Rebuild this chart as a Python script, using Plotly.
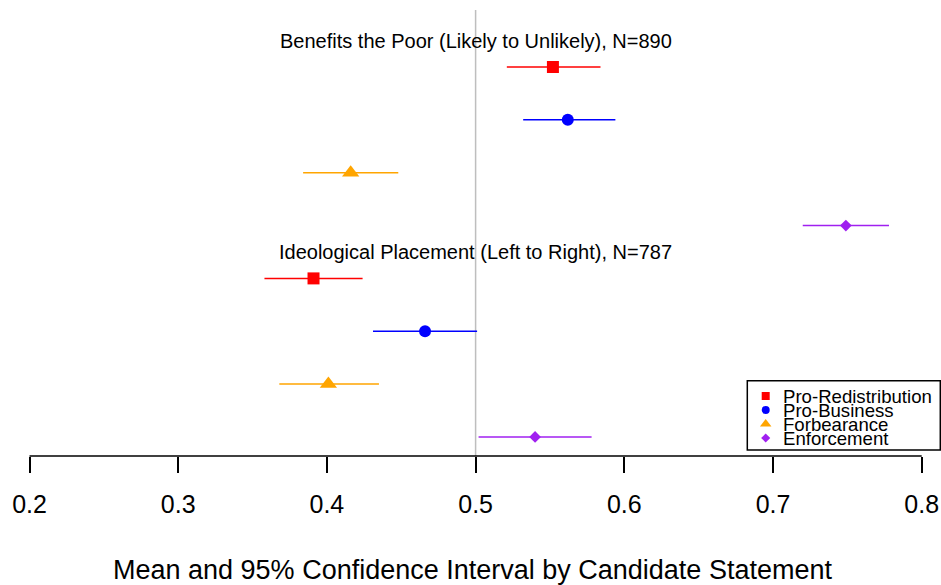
import plotly.graph_objects as go

# ---- data ----
statements = ["Benefits the Poor (Likely to Unlikely), N=890",
              "Ideological Placement (Left to Right), N=787"]
series = ["Pro-Redistribution", "Pro-Business", "Forbearance", "Enforcement"]
colors = ["#FF0000", "#0000FF", "#FFA500", "#A020F0"]
symbols = ["square", "circle", "triangle-up", "diamond"]
msizes = [12, 12, 15, 9]
legend_msizes = [8, 8, 10, 7]

means = {
    "Pro-Redistribution": [0.552, 0.391],
    "Pro-Business":       [0.562, 0.466],
    "Forbearance":        [0.416, 0.401],
    "Enforcement":        [0.749, 0.540],
}
lows = {
    "Pro-Redistribution": [0.521, 0.358],
    "Pro-Business":       [0.532, 0.431],
    "Forbearance":        [0.384, 0.368],
    "Enforcement":        [0.720, 0.502],
}
highs = {
    "Pro-Redistribution": [0.584, 0.424],
    "Pro-Business":       [0.594, 0.501],
    "Forbearance":        [0.448, 0.435],
    "Enforcement":        [0.778, 0.578],
}
tick_vals = [0.2, 0.3, 0.4, 0.5, 0.6, 0.7, 0.8]
tick_text = ["0.2", "0.3", "0.4", "0.5", "0.6", "0.7", "0.8"]
ref_line = 0.5
x_title = "Mean and 95% Confidence Interval by Candidate Statement"

# ---- layout constants ----
W, H = 941, 585
PLOT_BOTTOM = 456
FONT = "Liberation Sans, Arial, Helvetica, sans-serif"

px_per_unit = (921.7 - 29.5) / 0.6
x0 = 0.2 - 29.5 / px_per_unit
x1 = 0.2 + (W - 29.5) / px_per_unit
row_px = 52.85
y_top = -67 / row_px
y_bot = (PLOT_BOTTOM - 67) / row_px

fig = go.Figure()
n_series = len(series)
for s_i, name in enumerate(series):
    ys = [g * n_series + s_i for g in range(len(statements))]
    m = means[name]
    lo = lows[name]
    hi = highs[name]
    fig.add_trace(go.Scatter(
        x=m, y=ys, mode="markers", name=name, showlegend=False,
        marker=dict(symbol=symbols[s_i], size=msizes[s_i], color=colors[s_i],
                    opacity=1, line=dict(width=0)),
        error_x=dict(type="data", symmetric=False,
                     array=[h - v for h, v in zip(hi, m)],
                     arrayminus=[v - l for v, l in zip(m, lo)],
                     color=colors[s_i], thickness=1.5, width=0),
    ))

# group labels
for g, label in enumerate(statements):
    fig.add_annotation(x=ref_line, y=g * n_series - 0.5, xref="x", yref="y",
                       text=label, showarrow=False, xanchor="center", yanchor="middle",
                       font=dict(family=FONT, size=20, color="black"))

# vertical reference line
fig.add_shape(type="line", xref="x", yref="paper", x0=ref_line, x1=ref_line,
              y0=0, y1=(PLOT_BOTTOM - 10) / PLOT_BOTTOM,
              line=dict(color="#BEBEBE", width=1.5), layer="below")
# axis line from first to last tick
fig.add_shape(type="line", xref="x", yref="paper", x0=tick_vals[0], x1=tick_vals[-1],
              y0=0, y1=0, line=dict(color="black", width=1.5))

# x axis title
fig.add_annotation(x=x0 + 472 / px_per_unit, y=(PLOT_BOTTOM - 570) / PLOT_BOTTOM,
                   xref="x", yref="paper",
                   text=x_title, showarrow=False, xanchor="center", yanchor="middle",
                   font=dict(family=FONT, size=27, color="black"))

# ---- manual legend (compact, R-style) ----
lx0, lx1 = 747.3, 940.3
ly0, ly1 = 380.7, 450.0
fig.add_shape(type="rect", xref="paper", yref="paper",
              x0=lx0 / W, x1=lx1 / W,
              y0=(PLOT_BOTTOM - ly1) / PLOT_BOTTOM, y1=(PLOT_BOTTOM - ly0) / PLOT_BOTTOM,
              line=dict(color="black", width=1.5), fillcolor="white", layer="below")
leg_rows = [396, 410, 424, 438]
fig.add_trace(go.Scatter(
    x=[765.7] * n_series, y=leg_rows, xaxis="x2", yaxis="y2", mode="markers",
    showlegend=False, hoverinfo="skip",
    marker=dict(symbol=symbols, size=legend_msizes, color=colors, opacity=1,
                line=dict(width=0)),
))
for s_i, name in enumerate(series):
    fig.add_annotation(x=782.0, y=leg_rows[s_i], xref="x2", yref="y2", text=name,
                       showarrow=False, xanchor="left", yanchor="middle", borderpad=0,
                       font=dict(family=FONT, size=18.6, color="black"))

fig.update_layout(
    width=W, height=H,
    margin=dict(l=0, r=0, t=0, b=H - PLOT_BOTTOM, pad=0),
    paper_bgcolor="white", plot_bgcolor="white",
    font=dict(family=FONT, color="black"),
    xaxis=dict(range=[x0, x1], tickvals=tick_vals, ticktext=tick_text,
               ticks="outside", ticklen=16, tickwidth=1.5, tickcolor="black",
               ticklabelstandoff=10,
               showgrid=False, zeroline=False, showline=False,
               tickfont=dict(family=FONT, size=25, color="black"),
               fixedrange=True),
    yaxis=dict(range=[y_bot, y_top], showticklabels=False, showgrid=False,
               zeroline=False, showline=False, ticks="", fixedrange=True),
    xaxis2=dict(range=[0, W], overlaying="x", visible=False, fixedrange=True),
    yaxis2=dict(range=[PLOT_BOTTOM, 0], overlaying="y", visible=False, fixedrange=True),
    showlegend=False,
)

fig.write_html("out.html")
